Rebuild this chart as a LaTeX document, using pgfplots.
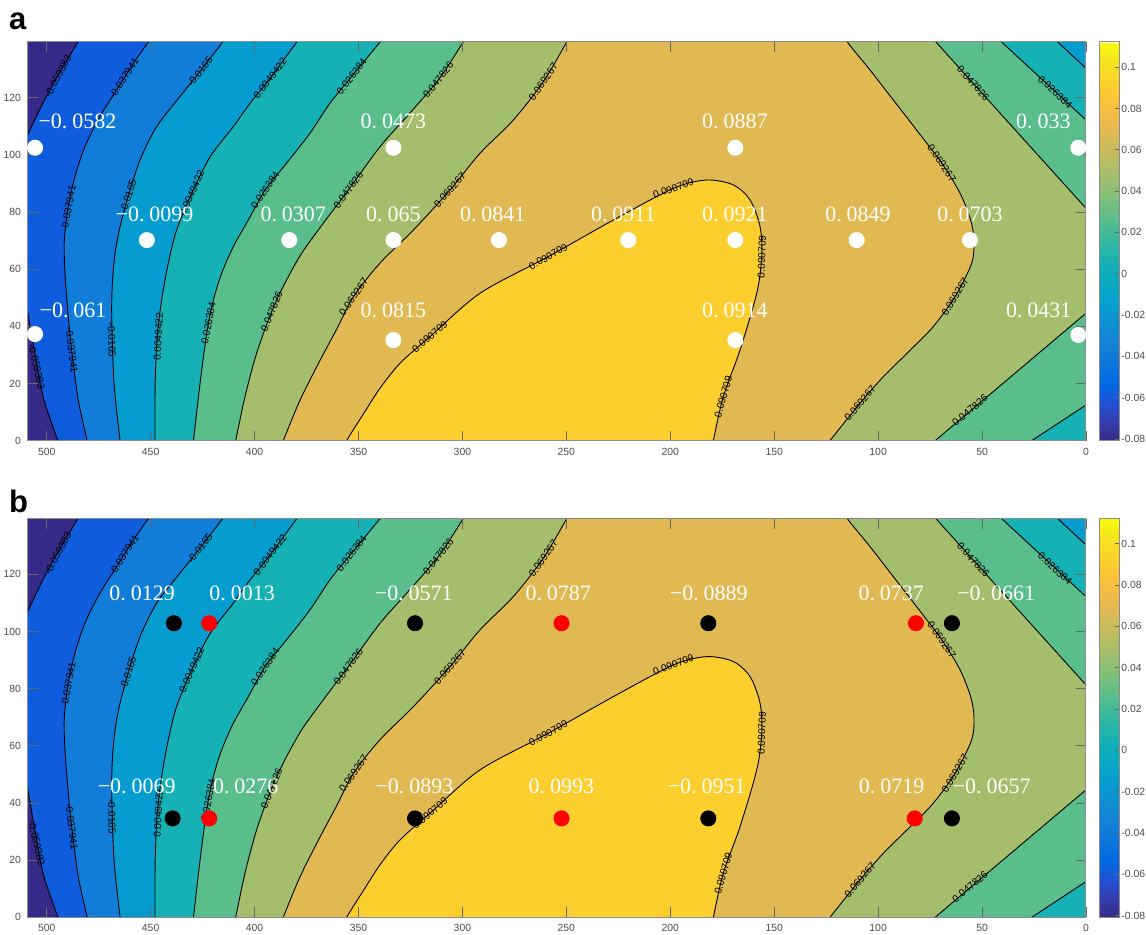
\documentclass[border=0pt]{standalone}
\usepackage{fontspec}
\setmainfont{Liberation Sans}
\newfontfamily\labfont{Liberation Serif}
\usepackage{pgfplots}
\usepackage{pgfplotstable}
\pgfplotsset{compat=1.18}

\definecolor{c0}{rgb}{0.2081,0.1663,0.5292}
\definecolor{c1}{rgb}{0.0591,0.3598,0.8683}
\definecolor{c2}{rgb}{0.0723,0.4887,0.8467}
\definecolor{c3}{rgb}{0.0265,0.6137,0.8135}
\definecolor{c4}{rgb}{0.0843,0.6928,0.7062}
\definecolor{c5}{rgb}{0.3482,0.7424,0.5473}
\definecolor{c6}{rgb}{0.6473,0.7456,0.4188}
\definecolor{c7}{rgb}{0.8824,0.7274,0.3217}
\definecolor{c8}{rgb}{0.9880,0.8066,0.1794}

\pgfplotsset{colormap={parula}{
rgb=(0.2081,0.1663,0.5292) rgb=(0.2081,0.2386,0.6771) rgb=(0.1253,0.3242,0.8303)
rgb=(0.0060,0.4086,0.8828) rgb=(0.0498,0.4586,0.8641) rgb=(0.0779,0.5040,0.8384)
rgb=(0.0641,0.5570,0.8240) rgb=(0.0265,0.6137,0.8135) rgb=(0.0228,0.6535,0.7768)
rgb=(0.0590,0.6838,0.7254) rgb=(0.1453,0.7098,0.6646) rgb=(0.2586,0.7317,0.5954)
rgb=(0.3953,0.7459,0.5244) rgb=(0.5300,0.7491,0.4661) rgb=(0.6473,0.7456,0.4188)
rgb=(0.7525,0.7384,0.3768) rgb=(0.8507,0.7299,0.3360) rgb=(0.9450,0.7261,0.2886)
rgb=(0.9990,0.7653,0.2164) rgb=(0.9789,0.8271,0.1633) rgb=(0.9589,0.8949,0.1132)
rgb=(0.9763,0.9831,0.0538)}}

\newcommand\tickfont{\fontsize{5.2}{6}\selectfont}
\newcommand\clabfont{\fontsize{5.1}{6}\selectfont}
\def\fmtlab#1.#2\relax{#1.\hspace{0.22em}#2}

% contour labels: text, angle, position
\pgfplotstableread{
lab ang x y
-0.059383 62 494.5 127.4
-0.059383 -77 504.8 25.9
-0.037941 57 462.8 126.8
-0.037941 80 489.6 81.3
-0.037941 -83 488.0 31.7
-0.0165 52 426.3 129.1
-0.0165 73 460.8 85.4
-0.0165 -88 468.7 35.2
0.0049422 53 392.5 126.8
0.0049422 66 430.2 86.6
0.0049422 87 446.3 36.4
0.026384 52 353.3 127.4
0.026384 56 394.9 87.7
0.026384 79 422.2 41.1
0.047826 52 311.6 126.2
0.047826 54 354.9 87.7
0.047826 68 391.8 45.1
0.069267 55 261.1 125.6
0.069267 49 306.0 87.7
0.069267 55 352.4 50.4
0.090709 40 315.6 36.4
0.090709 29 258.7 64.4
0.090709 20 198.5 88.3
0.090709 88 156.0 64.4
0.090709 74 174.5 15.4
0.069267 -56 69.4 97.1
0.069267 59 63.0 50.4
0.069267 50 108.7 13.1
0.047826 -48 54.2 125.0
0.047826 40 55.8 10.7
0.026384 -43 14.9 122.0
}\clabtab

% panel a points
\pgfplotstableread{
x y
505.6 102.5
505.6 37.3
451.8 70.2
383.3 70.2
333.2 102.5
333.2 70.2
333.2 35.2
282.4 70.2
220.2 70.2
168.7 102.5
168.7 70.2
168.7 35.2
110.3 70.2
55.8 70.2
3.7 102.5
3.7 37.0
}\ptsA
\pgfplotstableread{
x y lab
485.2 111.8 −0.0582
487.3 45.6 −0.061
448.1 79.1 −0.0099
381.4 79.1 0.0307
333.2 111.8 0.0473
333.2 79.1 0.065
333.2 45.6 0.0815
285.4 79.1 0.0841
222.6 79.1 0.0911
168.9 111.8 0.0887
168.9 79.1 0.0921
168.9 45.6 0.0914
109.7 79.1 0.0849
55.8 79.1 0.0703
20.5 111.8 0.033
22.7 45.6 0.0431
}\labA

% panel b points
\pgfplotstableread{
x y
438.8 102.9
439.4 34.6
322.8 102.9
322.8 34.6
181.7 102.9
181.7 34.6
64.5 102.9
64.5 34.6
}\ptsBblack
\pgfplotstableread{
x y
421.8 102.9
421.8 34.6
252.3 102.9
252.3 34.6
81.8 102.9
82.4 34.6
}\ptsBred
\pgfplotstableread{
x y lab
454.1 113.2 0.0129
406.0 113.2 0.0013
456.7 45.9 −0.0069
404.2 45.9 0.0276
323.4 113.2 −0.0571
323.1 45.9 −0.0893
253.9 113.2 0.0787
252.4 45.9 0.0993
181.5 113.2 −0.0889
182.5 45.9 −0.0951
93.7 113.2 0.0737
93.5 45.9 0.0719
43.2 113.2 −0.0661
45.4 45.9 −0.0657
}\labB

\newcommand{\contourbg}{%
\addplot[fill=c0, draw=none] coordinates {(-40,-20) (560,-20) (560,170) (-40,170)};
\addplot[fill=c1, draw=black, line width=0.45pt, smooth] coordinates {(480.5,145) (485,139.5) (493.3,129.3) (501.3,118.8) (509,107.2) (512.5,100.5) (511.5,56) (509,44.4) (504.5,25.8) (501.3,14.2) (494.6,0) (491,-7) (-40,-10) (-40,170)};
\addplot[fill=c2, draw=black, line width=0.45pt, smooth] coordinates {(447,144) (451.1,139.5) (458.3,132) (466.3,122.7) (474.4,113.4) (481.6,102.9) (486.4,92.4) (489.6,81.9) (491.5,70.2) (491.2,58.6) (489.6,43.4) (488,31.7) (484.8,14.2) (480.5,0) (478.5,-6) (-40,-10) (-40,170)};
\addplot[fill=c3, draw=black, line width=0.45pt, smooth] coordinates {(411.5,143) (415.3,139.5) (426.3,129.1) (435.9,120.4) (447.1,109.9) (455.1,98.2) (460.8,85.4) (464.7,74.9) (467.1,65.6) (468.4,55.1) (468.7,43.4) (467.6,20.1) (464.7,0) (463.5,-6) (-40,-10) (-40,170)};
\addplot[fill=c4, draw=black, line width=0.45pt, smooth] coordinates {(376.2,143) (379.7,139.5) (392.5,126.8) (402.1,118.1) (410.2,109.9) (421.3,99.4) (430.2,86.6) (437.5,73.7) (441.5,62.1) (444.7,49.2) (446.8,36.4) (447.8,20.1) (447.9,0) (447.9,-6) (-40,-10) (-40,170)};
\addplot[fill=c5, draw=black, line width=0.45pt, smooth] coordinates {(336,142.7) (339.6,139.5) (353.3,127.4) (363.7,118.1) (373.3,107.6) (384.6,97.1) (394.9,87.7) (403,77.2) (410.2,67.9) (415.8,58.6) (419.8,49.2) (423,37.6) (426.2,20.1) (429.4,0) (430.5,-6) (-40,-10) (-40,170)};
\addplot[fill=c6, draw=black, line width=0.45pt, smooth] coordinates {(296.4,143.1) (299.6,139.5) (311.6,126.2) (326.8,113.4) (339.6,102.9) (354.9,87.7) (366.9,76.1) (377.3,65.6) (385.4,55.1) (391.8,45.1) (399,30.6) (404.6,15.4) (409.1,0) (411,-6) (-40,-10) (-40,170)};
\addplot[fill=c7, draw=black, line width=0.45pt, smooth] coordinates {(247.5,142.5) (249.8,139.5) (261.1,125.6) (275.5,112.2) (291.5,100.6) (306,87.7) (323.6,73.7) (339.7,62.1) (352.4,50.4) (360.5,39) (368.5,28.1) (378.1,14.2) (386.2,0) (389,-5) (-40,-10) (-40,170)};
\addplot[fill=c6, draw=black, line width=0.45pt, smooth] coordinates {(116.5,143) (114.8,139.5) (103.9,129.7) (92.7,119.2) (81.5,108.7) (69.4,97.1) (60.6,86.6) (55.5,77.2) (53.9,70.2) (55,62.1) (63,50.4) (73.5,39.9) (84.7,31.6) (97.5,22.4) (108.7,13.1) (123.2,0) (128,-4.3) (-40,-10) (-40,170)};
\addplot[fill=c8, draw=black, line width=0.45pt, smooth] coordinates {(357.5,-4) (355.7,0) (347.5,9.5) (339.7,18.3) (330,27.1) (315.6,36.4) (291.5,51.6) (258.7,64.4) (227.4,77.2) (198.5,88.3) (182.5,91.2) (169.7,89.5) (161.6,84.2) (156.8,74.9) (156,64.4) (158.4,51.6) (166.5,31.6) (174.5,15.4) (179.3,0) (180.5,-4)};
\addplot[fill=c5, draw=black, line width=0.45pt, smooth] coordinates {(76,143) (72.2,139.5) (0,81.3) (-12,71.6) (-12,170)};
\addplot[fill=c4, draw=black, line width=0.45pt, smooth] coordinates {(44.7,142.3) (40.6,139.5) (0,112.2) (-10,105.5) (-10,170)};
\addplot[fill=c3, draw=black, line width=0.45pt, smooth] coordinates {(17.7,142.3) (13.6,139.5) (0,130.3) (-8,124.9) (-8,170)};
\addplot[fill=c5, draw=black, line width=0.45pt, smooth] coordinates {(-10,50.7) (0,44.6) (72.6,0) (81.1,-5.2) (-10,-5.2)};
\addplot[fill=c4, draw=black, line width=0.45pt, smooth] coordinates {(-10,17.3) (0,12.5) (26.1,0) (34.2,-3.9) (-10,-3.9)};
\addplot[draw=none, mark=none, point meta=explicit symbolic, nodes near coords,
  visualization depends on={\thisrow{ang}\as\clang},
  every node near coord/.append style={anchor=center, rotate=\clang, font=\clabfont, inner sep=0pt, text=black}]
  table[x=x, y=y, meta=lab] {\clabtab};
}

\pgfplotsset{
  mainax/.style={
    anchor=south west, scale only axis, width=529pt, height=199.35pt,
    xmin=0, xmax=509, ymin=0, ymax=139.5, x dir=reverse,
    xtick={0,50,100,150,200,250,300,350,400,450,500},
    ytick={0,20,40,60,80,100,120},
    tick align=inside, tick pos=both,
    major tick length=5pt,
    tick style={black!60, line width=0.45pt},
    axis line style={black!45, line width=0.5pt},
    ticklabel style={font=\tickfont, text=black!70},
    /pgf/number format/assume math mode=true,
    axis on top,
    colorbar shift/.style={},
    colorbar, colormap name=parula,
    point meta min=-0.080825, point meta max=0.11215,
    colorbar style={
      at={(parent axis.north east)}, anchor=north west, xshift=6.5pt,
      scale only axis, width=10pt, height=199.35pt,
      ytick={-0.08,-0.06,-0.04,-0.02,0,0.02,0.04,0.06,0.08,0.1},
      yticklabels={-0.08,-0.06,-0.04,-0.02,0,0.02,0.04,0.06,0.08,0.1},
      yticklabel style={font=\tickfont, text=black!70, inner sep=1pt},
      ytick pos=right, tick align=inside, major tick length=2pt,
      tick style={black!60, line width=0.4pt},
      axis line style={black!45, line width=0.5pt},
    },
  },
  ptlab/.style={draw=none, mark=none, point meta=explicit symbolic,
    nodes near coords={\expandafter\fmtlab\pgfplotspointmeta\relax},
    every node near coord/.append style={anchor=center, font=\labfont\fontsize{11}{13}\selectfont, text=white, inner sep=0pt}},
}

\begin{document}
\begin{tikzpicture}
\path[use as bounding box] (0,0) rectangle (573pt,-467.5pt);
\begin{axis}[mainax, at={(14pt,-220.35pt)}]
\contourbg
\addplot[only marks, mark=*, mark size=3.8pt, mark options={draw=white, fill=white}] table[x=x, y=y] {\ptsA};
\addplot[ptlab] table[x=x, y=y, meta=lab] {\labA};
\end{axis}
\begin{axis}[mainax, at={(14pt,-458.65pt)}]
\contourbg
\addplot[only marks, mark=*, mark size=3.8pt, mark options={draw=black, fill=black}] table[x=x, y=y] {\ptsBblack};
\addplot[only marks, mark=*, mark size=3.8pt, mark options={draw=red, fill=red}] table[x=x, y=y] {\ptsBred};
\addplot[ptlab] table[x=x, y=y, meta=lab] {\labB};
\end{axis}
\node[anchor=base west, inner sep=0pt, font=\bfseries\fontsize{15.5}{18}\selectfont] at (4.4pt,-14.65pt) {a};
\node[anchor=base west, inner sep=0pt, font=\bfseries\fontsize{15.5}{18}\selectfont] at (4.4pt,-256.35pt) {b};
\end{tikzpicture}
\end{document}
